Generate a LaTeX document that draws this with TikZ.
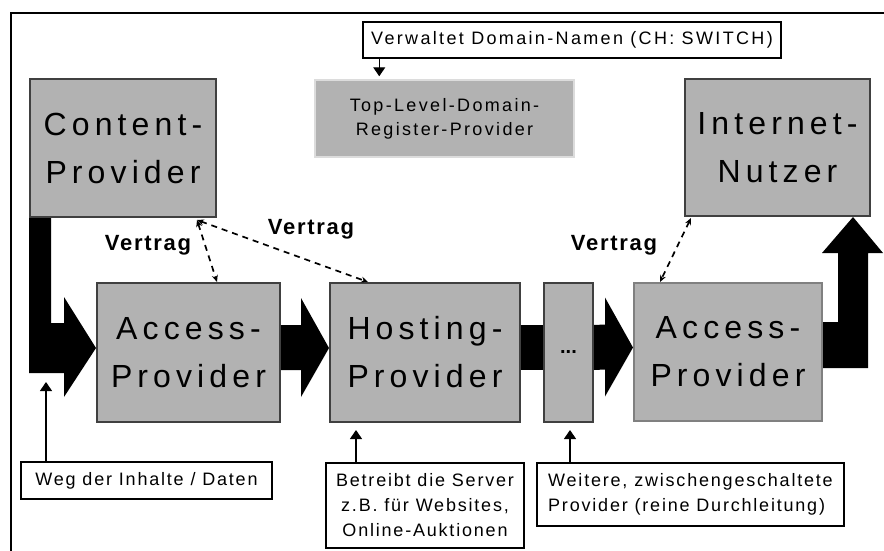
\documentclass[tikz,border=0pt]{standalone}
\usepackage{fontspec}
\setmainfont{Liberation Sans}
\usepackage{tikz}
\usetikzlibrary{arrows.meta,calc}

\definecolor{boxgray}{RGB}{178,178,178}
\definecolor{darkline}{RGB}{64,64,64}
\definecolor{midline}{RGB}{128,128,128}
\definecolor{paleline}{RGB}{220,220,220}

\newcommand{\flowarrow}[2]{%
	\fill ([yshift=27.5pt]#1.east) -- ([xshift=-28pt,yshift=27.5pt]#2.west) -- ([xshift=-28pt,yshift=54.5pt]#2.west) -- ([yshift=4.5pt]#2.west) -- ([xshift=-28pt,yshift=-44.5pt]#2.west) -- ([xshift=-28pt,yshift=-17.5pt]#2.west) -- ([yshift=-17.5pt]#1.east) -- cycle;}

\begin{document}
\begin{tikzpicture}[x=1pt,y=-1pt,
	provider/.style={shape=rectangle,draw=darkline,line width=2pt,fill=boxgray,inner sep=0pt,align=center,font=\fontsize{32}{48}\selectfont\addfontfeature{LetterSpace=16}},
	register/.style={shape=rectangle,draw=paleline,line width=1.5pt,fill=boxgray,inner sep=0pt,align=center,font=\fontsize{18}{24}\selectfont\addfontfeature{LetterSpace=13}},
	note/.style={shape=rectangle,draw=black,line width=1.2pt,fill=white,inner sep=0pt,font=\fontsize{18}{25}\selectfont\addfontfeature{LetterSpace=10}},
	contract/.style={inner sep=0pt,font=\bfseries\fontsize{22}{25}\selectfont\addfontfeature{LetterSpace=8}},
	pointer/.style={-{Triangle[width=12pt,length=9pt]},line width=1.2pt},
	dashlink/.style={{Stealth[length=7pt,width=6pt]}-{Stealth[length=7pt,width=6pt]},line width=1.7pt,dash pattern=on 6pt off 5pt}]
	\useasboundingbox (0,0) rectangle (884,550);
	\clip (0,0) rectangle (884,550);
	\draw[line width=2pt] (11,600) -- (11,13) -- (900,13);
	
	\node[provider,minimum width=186pt,minimum height=138pt] (content) at (123,148) {Content-\\Provider};
	\node[provider,minimum width=185pt,minimum height=137pt] (net) at (777.5,147.5) {Internet-\\Nutzer};
	\node[register,minimum width=259pt,minimum height=77pt] (tld) at (444.5,118.5) {Top-Level-Domain-\\Register-Provider};
	\node[provider,minimum width=183pt,minimum height=139pt] (acc1) at (188.5,352.5) {Access-\\Provider};
	\node[provider,minimum width=190pt,minimum height=139pt] (host) at (425,352.5) {Hosting-\\Provider};
	\node[provider,minimum width=49pt,minimum height=139pt,font=\bfseries\fontsize{20}{24}\selectfont] (dots) at (568.5,352.5) {...};
	\node[provider,draw=midline,minimum width=188pt,minimum height=138pt] (acc2) at (728,352) {Access-\\Provider};
	
	\node[note,minimum width=418pt,minimum height=36pt,font=\fontsize{18}{25}\selectfont\addfontfeature{LetterSpace=13}] (domains) at (572,40) {Verwaltet Domain-Namen (CH: SWITCH)};
	\node[note,minimum width=251pt,minimum height=37pt] (route) at (146.5,480.5) {Weg der Inhalte / Daten};
	\node[note,align=center,minimum width=198pt,minimum height=85pt] (serve) at (425,505.5) {Betreibt die Server\\z.B. für Websites,\\Online-Auktionen};
	\node[note,align=left,minimum width=307pt,minimum height=63pt] (relay) at (690.5,494.5) {Weitere, zwischengeschaltete\\Provider (reine Durchleitung)};
	
	\node[contract] (v1) at (148,245) {Vertrag};
	\node[contract] (v2) at (311,229) {Vertrag};
	\node[contract] (v3) at (614,245) {Vertrag};
	
	\fill (content.south west) -- ([xshift=22pt]content.south west) |- ([xshift=-32pt,yshift=29.5pt]acc1.west) -- ([xshift=-32pt,yshift=55.5pt]acc1.west) -- ([yshift=4.5pt]acc1.west) -- ([xshift=-32pt,yshift=-44.5pt]acc1.west) -- ([xshift=-32pt,yshift=-20.5pt]acc1.west) -| (content.south west) -- cycle;
	\flowarrow{acc1}{host}
	\fill ([yshift=27.5pt]host.east) rectangle ([yshift=-17.5pt]dots.west);
	\flowarrow{dots}{acc2}
	\fill ([yshift=30pt]acc2.east) -| ([xshift=-33pt,yshift=-36pt]net.south east) -- ([xshift=-49pt,yshift=-36pt]net.south east) -- ([xshift=-18pt]net.south east) -- ([xshift=12pt,yshift=-36pt]net.south east) -- ([xshift=-3pt,yshift=-36pt]net.south east) |- ([yshift=-16pt]acc2.east) -- cycle;
	
	\coordinate (cp) at ([xshift=-20pt,yshift=-2pt]content.south east);
	\path[dashlink] (cp) edge ([xshift=28.5pt]acc1.north);
	\path[dashlink] (cp) edge ([xshift=-57pt]host.north);
	\path[dashlink] ([xshift=7pt,yshift=-1pt]net.south west) edge ([xshift=-68pt]acc2.north);
	
	\coordinate (tldtip) at ([xshift=65pt,yshift=3pt]tld.north west);
	\coordinate (pathtip) at (46,382);
	\coordinate (hosttip) at ([xshift=27pt,yshift=-7pt]host.south west);
	\coordinate (dotstip) at ([xshift=1.5pt,yshift=-7pt]dots.south);
	\path[pointer] (domains.south -| tldtip) edge (tldtip);
	\path[pointer] (route.north -| pathtip) edge (pathtip);
	\path[pointer] (serve.north -| hosttip) edge (hosttip);
	\path[pointer] (relay.north -| dotstip) edge (dotstip);
\end{tikzpicture}
\end{document}
